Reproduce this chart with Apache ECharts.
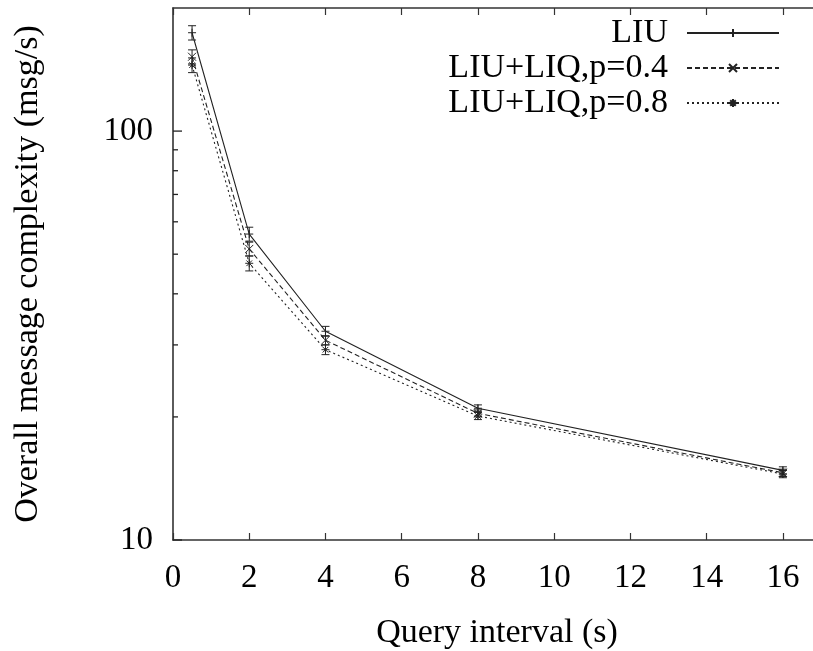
<!DOCTYPE html>
<html>
<head>
<meta charset="utf-8">
<script src="https://cdn.jsdelivr.net/npm/echarts@6/dist/echarts.min.js"></script>
<style>html,body{margin:0;padding:0;background:#fff}#c{width:813px;height:651px}</style>
</head>
<body>
<div id="c"></div>
<script>
// ---- data ----
const xValues = [0.5, 2, 4, 8, 16];
const seriesNames = ['LIU', 'LIU+LIQ,p=0.4', 'LIU+LIQ,p=0.8'];
const liu    = [174, 56, 32.4, 21.0, 14.8];
const liq04  = [152, 51.5, 30.8, 20.4, 14.6];
const liq08  = [145, 47.5, 29.2, 20.1, 14.5];
const errLiu   = [7, 2.2, 0.9, 0.4, 0.3];
const errLiq04 = [6, 2.0, 0.8, 0.4, 0.3];
const errLiq08 = [6, 2.0, 0.8, 0.4, 0.3];
const xTicks = [0, 2, 4, 6, 8, 10, 12, 14, 16];
const yMajor = [10, 100];
const yMinor = [20, 30, 40, 50, 60, 70, 80, 90];

const FONT = "'Liberation Serif','Times New Roman',serif";
const INK = '#222';
const TXT = '#000';
const symPlus = 'path://M0,5L10,5M5,0L5,10';
const symX = 'path://M0,0L10,10M0,10L10,0';
const symStar = 'path://M0,5L10,5M5,0L5,10M1.5,1.5L8.5,8.5M1.5,8.5L8.5,1.5';

function pairs(ys){ return xValues.map((x,i)=>[x, ys[i]]); }
function errData(ys, es){ return xValues.map((x,i)=>[x, ys[i]-es[i], ys[i]+es[i]]); }

function lineSeries(name, ys, dash, sym){
  return {
    name, type:'line', data: pairs(ys), symbol: sym, symbolSize: 8,
    lineStyle:{color:INK, width:1.1, type: dash},
    itemStyle:{color:INK, borderColor:INK, borderWidth:1},
    emphasis:{disabled:true}, z:3
  };
}
function errSeries(ys, es){
  return {
    type:'custom', data: errData(ys, es), silent:true, z:4,
    renderItem(params, api){
      const x = api.value(0);
      const lo = api.coord([x, api.value(1)]);
      const hi = api.coord([x, api.value(2)]);
      const w = 4;
      const st = {stroke:INK, lineWidth:1};
      return {type:'group', children:[
        {type:'line', shape:{x1:lo[0], y1:lo[1], x2:hi[0], y2:hi[1]}, style:st},
        {type:'line', shape:{x1:lo[0]-w, y1:lo[1], x2:lo[0]+w, y2:lo[1]}, style:st},
        {type:'line', shape:{x1:hi[0]-w, y1:hi[1], x2:hi[0]+w, y2:hi[1]}, style:st}
      ]};
    }
  };
}
// log ticks on the left axis, placed through the axis scale (minor: short, major: long)
const tickSeries = {
  type:'custom', data: yMinor.map(v => [0.5, v, 5]).concat(yMajor.map(v => [0.5, v, 9])),
  silent:true, z:10, clip:false,
  renderItem(params, api){
    const p = api.coord([0, api.value(1)]);
    const len = api.value(2);
    return {type:'line', shape:{x1:p[0], y1:p[1], x2:p[0]+len, y2:p[1]},
      style:{stroke:'#222', lineWidth:1.3}};
  }
};

const chart = echarts.init(document.getElementById('c'), null, {renderer:'canvas'});
const axisLine = {show:true, lineStyle:{color:'#333', width:1.6}};
function legendFor(name, top){
  return {
    data:[name], right:33, top, orient:'vertical', align:'right', padding:0,
    itemWidth:92, itemHeight:10, selectedMode:false,
    textStyle:{fontSize:34, fontFamily:FONT, color:TXT, padding:[0,14,0,0]}
  };
}
chart.setOption({
  backgroundColor:'#fff',
  animation:false,
  grid:{left:173, top:8, right:-8, bottom:111, show:false, containLabel:false, outerBoundsMode:'none'},
  legend:[legendFor(seriesNames[0], 16), legendFor(seriesNames[1], 51), legendFor(seriesNames[2], 86)],
  xAxis:[{
    type:'value', min:0, max:17, interval:2,
    name:'Query interval (s)', nameLocation:'middle', nameGap:76,
    nameTextStyle:{fontSize:34, fontFamily:FONT, color:TXT},
    axisLine, splitLine:{show:false},
    axisTick:{show:true, inside:true, length:7, lineStyle:{color:'#333', width:1.2}},
    axisLabel:{fontSize:33, fontFamily:FONT, color:TXT, margin:22,
      formatter:v => xTicks.includes(v) ? String(v) : ''}
  },{
    type:'value', min:0, max:17, interval:2, position:'top',
    axisLine, splitLine:{show:false}, axisLabel:{show:false},
    axisTick:{show:true, inside:true, length:7, lineStyle:{color:'#333', width:1.2}}
  }],
  yAxis:{
    type:'log', logBase:10, min:10, max:200,
    name:'Overall message complexity (msg/s)', nameLocation:'middle', nameGap:128,
    nameTextStyle:{fontSize:34, fontFamily:FONT, color:TXT},
    axisLine, splitLine:{show:false}, minorTick:{show:false},
    axisTick:{show:false},
    axisLabel:{fontSize:33, fontFamily:FONT, color:TXT, margin:20,
      formatter:v => yMajor.some(m => Math.abs(m - v) < 1e-6) ? String(Math.round(v)) : ''}
  },
  series:[
    lineSeries(seriesNames[0], liu, 'solid', symPlus),
    lineSeries(seriesNames[1], liq04, [5,3], symX),
    lineSeries(seriesNames[2], liq08, [2,3], symStar),
    errSeries(liu, errLiu),
    errSeries(liq04, errLiq04),
    errSeries(liq08, errLiq08),
    tickSeries
  ]
});
</script>
</body>
</html>
